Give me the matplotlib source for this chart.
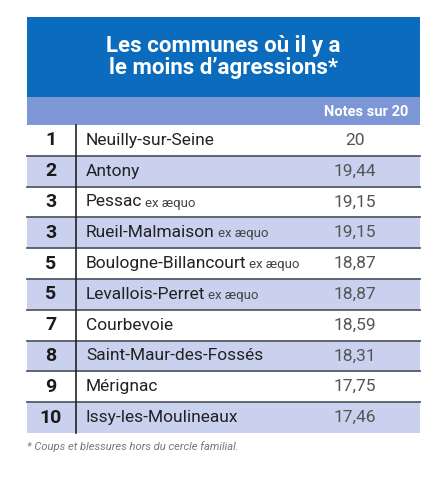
import matplotlib
matplotlib.use("Agg")
import matplotlib.pyplot as plt
from matplotlib.patches import Rectangle

RANKS = ["1", "2", "3", "3", "5", "5", "7", "8", "9", "10"]
COMMUNES = ["Neuilly-sur-Seine", "Antony", "Pessac", "Rueil-Malmaison", "Boulogne-Billancourt",
            "Levallois-Perret", "Courbevoie", "Saint-Maur-des-Fossés", "Mérignac", "Issy-les-Moulineaux"]
EX_AEQUO = [False, False, True, True, True, True, False, False, False, False]
NOTES = ["20", "19,44", "19,15", "19,15", "18,87", "18,87", "18,59", "18,31", "17,75", "17,46"]

FONT = ["Liberation Sans Narrow", "Roboto", "DejaVu Sans"]
plt.rcParams["font.family"] = FONT
BLUE, LIGHT, ROW = "#0b6bbd", "#7d97d6", "#c9d1ef"

fig = plt.figure(figsize=(4.43, 4.80), dpi=100)
ax = fig.add_axes([0, 0, 1, 1])
ax.set_xlim(0, 443); ax.set_ylim(480, 0); ax.axis("off")

L, R = 27, 420
ax.add_patch(Rectangle((L, 17), R - L, 80, color=BLUE, lw=0))
ax.text((L + R) / 2, 57, "Les communes où il y a\nle moins d’agressions*", color="white",
        fontsize=16, fontweight="bold", ha="center", va="center", linespacing=1.0)
ax.add_patch(Rectangle((L, 97), R - L, 28, color=LIGHT, lw=0))
ax.text(R - 12, 112, "Notes sur 20", color="white", fontsize=10.5, fontweight="bold", ha="right", va="center")

top, h = 125, 30.8
for i, (rk, name, ex, note) in enumerate(zip(RANKS, COMMUNES, EX_AEQUO, NOTES)):
    y0 = top + i * h
    if i % 2 == 1:
        ax.add_patch(Rectangle((L, y0), R - L, h, color=ROW, lw=0))
    if i > 0:
        ax.plot([L, R], [y0, y0], color="#555a66", lw=1.3)
    yc = y0 + h / 2
    ax.text(51, yc, rk, fontsize=14, fontweight="bold", ha="center", va="center", color="#1a1a1a")
    t = ax.text(86, yc, name, fontsize=12.5, ha="left", va="center", color="#222")
    if ex:
        fig.canvas.draw()
        bb = t.get_window_extent().transformed(ax.transData.inverted())
        ax.text(bb.x1 + 3, yc + 1, "ex æquo", fontsize=9.5, ha="left", va="center", color="#444")
    ax.text(355, yc, note, fontsize=12.5, ha="center", va="center", color="#555")
ax.plot([76, 76], [top, top + 10 * h], color="#222", lw=1.2)

ax.text(L, 447, "* Coups et blessures hors du cercle familial.", fontsize=8, style="italic",
        color="#777", ha="left", va="center")

fig.savefig("out.png", dpi=100)
